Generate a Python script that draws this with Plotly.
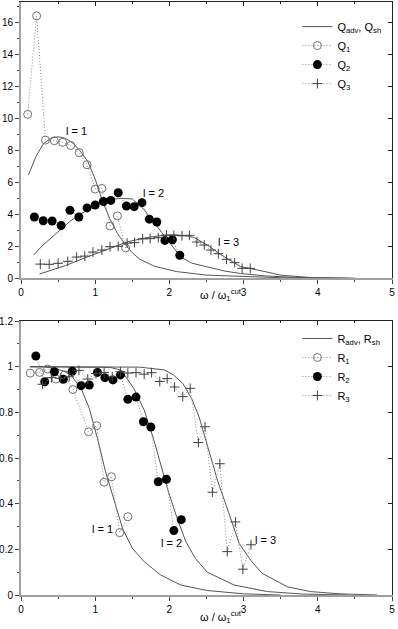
import plotly.graph_objects as go

# --- top panel: Q (x10 units on the axis) ---
q1_x = [0.09, 0.21, 0.33, 0.45, 0.56, 0.67, 0.785, 0.89, 1.00, 1.09, 1.20, 1.30, 1.41]
q1_y = [10.25, 16.4, 8.64, 8.6, 8.5, 8.3, 7.85, 7.1, 5.58, 5.62, 3.27, 3.9, 1.9]

q2_x = [0.18, 0.30, 0.42, 0.54, 0.66, 0.78, 0.89, 1.00, 1.11, 1.21, 1.31, 1.42, 1.525,
        1.63, 1.73, 1.83, 1.94, 2.04, 2.14]
q2_y = [3.83, 3.6, 3.58, 3.3, 4.25, 3.83, 4.4, 4.58, 4.8, 4.87, 5.35, 4.52, 4.48,
        4.73, 3.7, 3.52, 2.37, 2.41, 1.44]

q3_x = [0.26, 0.38, 0.50, 0.63, 0.75, 0.86, 0.97, 1.09, 1.20, 1.31, 1.43, 1.53, 1.64, 1.74,
        1.85, 1.96, 2.06, 2.17, 2.27, 2.37, 2.47, 2.56, 2.66, 2.77, 2.88, 2.98, 3.09]
q3_y = [0.89, 0.875, 0.94, 1.06, 1.33, 1.39, 1.64, 1.77, 1.98, 2.0, 2.2, 2.23, 2.47, 2.48,
        2.54, 2.7, 2.69, 2.66, 2.69, 2.27, 2.08, 1.77, 1.54, 1.19, 0.98, 0.625, 0.625]

qsh1_x = [0.10, 0.2, 0.3, 0.4, 0.5, 0.6, 0.7, 0.8, 0.9, 1.0, 1.1, 1.2, 1.3, 1.4, 1.5, 1.6,
          1.8, 2.1, 2.5, 3.0, 3.5, 4.0, 4.4]
qsh1_y = [6.45, 7.6, 8.4, 8.75, 8.85, 8.75, 8.45, 7.95, 7.3, 6.2, 4.8, 3.7, 2.8, 2.15, 1.6, 1.2,
          0.75, 0.42, 0.2, 0.1, 0.04, 0.01, 0.0]
qsh2_x = [0.17, 0.3, 0.45, 0.6, 0.67, 0.8, 0.9, 1.0, 1.12, 1.25, 1.35, 1.5, 1.64, 1.79, 1.97,
          2.15, 2.3, 2.51, 2.75, 2.96, 3.3, 3.7, 4.2, 4.5]
qsh2_y = [1.46, 2.1, 2.7, 3.3, 3.6, 4.0, 4.3, 4.55, 4.8, 4.95, 5.0, 4.96, 4.4, 3.5, 2.4,
          1.35, 0.95, 0.7, 0.45, 0.3, 0.15, 0.06, 0.01, 0.0]
qsh3_x = [0.25, 0.4, 0.6, 0.9, 1.2, 1.44, 1.7, 1.9, 2.06, 2.2, 2.33, 2.51, 2.74, 2.96, 3.19,
          3.5, 3.9, 4.5]
qsh3_y = [0.27, 0.5, 0.8, 1.35, 1.85, 2.29, 2.55, 2.68, 2.72, 2.68, 2.56, 2.08, 1.35, 0.73,
          0.52, 0.2, 0.05, 0.0]

# --- bottom panel: R ---
r1_x = [0.125, 0.25, 0.36, 0.47, 0.59, 0.70, 0.91, 1.02, 1.12, 1.22, 1.33, 1.44]
r1_y = [0.972, 0.975, 0.99, 0.946, 0.964, 0.90, 0.715, 0.742, 0.494, 0.518, 0.273, 0.343]

r2_x = [0.20, 0.32, 0.45, 0.57, 0.69, 0.81, 0.92, 1.03, 1.13, 1.24, 1.34, 1.44, 1.55, 1.65,
        1.75, 1.85, 1.96, 2.06, 2.16]
r2_y = [1.047, 0.934, 0.978, 0.945, 0.98, 0.917, 0.92, 0.975, 0.952, 0.942, 0.964, 0.857,
        0.867, 0.759, 0.736, 0.496, 0.507, 0.282, 0.33]

r3_x = [0.29, 0.41, 0.53, 0.65, 0.78, 0.90, 1.01, 1.12, 1.23, 1.34, 1.44, 1.55, 1.66, 1.76,
        1.87, 1.97, 2.07, 2.18, 2.28, 2.39, 2.48, 2.58, 2.68, 2.78, 2.89, 2.99, 3.10]
r3_y = [0.923, 0.952, 0.949, 0.956, 0.984, 0.946, 0.97, 0.975, 0.956, 0.978, 0.972, 0.974,
        0.967, 0.974, 0.935, 0.948, 0.911, 0.869, 0.905, 0.668, 0.737, 0.45, 0.575, 0.19,
        0.32, 0.113, 0.22]

rsh1_x = [0.12, 0.3, 0.45, 0.58, 0.67, 0.81, 0.92, 1.03, 1.14, 1.26, 1.37, 1.50, 1.66, 1.88,
          2.15, 2.5, 3.0, 3.5]
rsh1_y = [1.0, 1.0, 0.993, 0.98, 0.964, 0.905, 0.818, 0.686, 0.54, 0.41, 0.29, 0.205, 0.146,
          0.088, 0.044, 0.02, 0.005, 0.0]
rsh2_x = [0.12, 1.0, 1.2, 1.35, 1.52, 1.66, 1.79, 1.97, 2.1, 2.22, 2.35, 2.51, 2.87, 3.32,
          3.8, 4.4]
rsh2_y = [1.0, 1.0, 0.997, 0.985, 0.905, 0.81, 0.68, 0.47, 0.34, 0.235, 0.16, 0.10, 0.044,
          0.015, 0.004, 0.0]
rsh3_x = [0.12, 1.3, 1.6, 1.93, 2.05, 2.18, 2.3, 2.40, 2.52, 2.65, 2.8, 2.94, 3.1, 3.25,
          3.59, 3.9, 4.3, 4.8]
rsh3_y = [1.0, 1.0, 0.998, 0.986, 0.965, 0.927, 0.86, 0.78, 0.64, 0.50, 0.36, 0.226, 0.15,
          0.095, 0.036, 0.015, 0.005, 0.0]

FONT = "Liberation Sans, Arial, sans-serif"
CURVE = "#555555"
DOT = "#8a8a8a"

fig = go.Figure()


def add_panel(xa, ya, leg, names, curves, s1, s2, s3):
    # solid theory curves
    for i, (cx, cy) in enumerate(curves):
        fig.add_trace(go.Scatter(
            x=cx, y=cy, mode="lines", xaxis=xa, yaxis=ya,
            line=dict(color=CURVE, width=1),
            name=names[0], legendgroup=names[0] + leg, legend=leg,
            showlegend=(i == 0)))
    # measured points
    fig.add_trace(go.Scatter(
        x=s1[0], y=s1[1], mode="lines+markers", xaxis=xa, yaxis=ya, name=names[1], legend=leg,
        line=dict(color=DOT, width=1, dash="1px,2px"),
        marker=dict(symbol="circle-open", size=8, color="#707070", line=dict(width=1))))
    fig.add_trace(go.Scatter(
        x=s2[0], y=s2[1], mode="lines+markers", xaxis=xa, yaxis=ya, name=names[2], legend=leg,
        line=dict(color=DOT, width=1, dash="1px,2px"),
        marker=dict(symbol="circle", size=9, color="black")))
    fig.add_trace(go.Scatter(
        x=s3[0], y=s3[1], mode="lines+markers", xaxis=xa, yaxis=ya, name=names[3], legend=leg,
        line=dict(color=DOT, width=1, dash="1px,2px"),
        marker=dict(symbol="cross-thin-open", size=7, color="#404040", line=dict(width=1))))


add_panel("x", "y", "legend",
          ["Q<sub>adv</sub>, Q<sub>sh</sub>", "Q<sub>1</sub>", "Q<sub>2</sub>", "Q<sub>3</sub>"],
          [(qsh1_x, qsh1_y), (qsh2_x, qsh2_y), (qsh3_x, qsh3_y)],
          (q1_x, q1_y), (q2_x, q2_y), (q3_x, q3_y))
add_panel("x2", "y2", "legend2",
          ["R<sub>adv</sub>, R<sub>sh</sub>", "R<sub>1</sub>", "R<sub>2</sub>", "R<sub>3</sub>"],
          [(rsh1_x, rsh1_y), (rsh2_x, rsh2_y), (rsh3_x, rsh3_y)],
          (r1_x, r1_y), (r2_x, r2_y), (r3_x, r3_y))

# empty traces so the frame axes (top/right) get drawn
for xa, ya in [("x3", "y3"), ("x4", "y4")]:
    fig.add_trace(go.Scatter(x=[], y=[], xaxis=xa, yaxis=ya, showlegend=False))

tickfont = dict(family=FONT, size=10, color="black")
main_x = dict(range=[0, 5], dtick=1, ticks="outside", ticklen=4, tickcolor="#444",
              minor=dict(dtick=0.5, ticks="outside", ticklen=2, tickcolor="#444"),
              showline=True, linecolor="#a0a0a0", linewidth=2, showgrid=False,
              zeroline=False, tickfont=tickfont, automargin=False)
frame = dict(showline=True, linecolor="#222", linewidth=1, ticks="inside", ticklen=4,
             tickcolor="#222", showticklabels=False, showgrid=False, zeroline=False,
             automargin=False)

top_dom = [0.534, 1.0]
bot_dom = [0.0, 0.462]

fig.update_layout(
    template="none",
    width=398, height=629,
    margin=dict(l=21, r=6, t=2, b=34, autoexpand=False),
    paper_bgcolor="white", plot_bgcolor="white",
    font=dict(family=FONT, size=11, color="black"),
    xaxis=dict(main_x, anchor="y", domain=[0, 1]),
    yaxis=dict(range=[0, 17.27], dtick=2, ticks="outside", ticklen=4, tickcolor="#444",
               minor=dict(dtick=1, ticks="outside", ticklen=2, tickcolor="#444"),
               showline=True, linecolor="#a0a0a0", linewidth=2, showgrid=False,
               zeroline=False, tickfont=tickfont, domain=top_dom, anchor="x",
               automargin=False),
    xaxis2=dict(main_x, anchor="y2", domain=[0, 1]),
    yaxis2=dict(range=[0, 1.2], dtick=0.2, ticks="outside", ticklen=4, tickcolor="#444",
                minor=dict(dtick=0.1, ticks="outside", ticklen=2, tickcolor="#444"),
                showline=True, linecolor="#a0a0a0", linewidth=2, showgrid=False,
                zeroline=False, tickfont=tickfont, domain=bot_dom, anchor="x2",
                automargin=False),
    xaxis3=dict(frame, range=[0, 5], dtick=1, overlaying="x", side="top", anchor="y",
                minor=dict(dtick=0.5, ticks="inside", ticklen=2, tickcolor="#222")),
    yaxis3=dict(frame, range=[0, 17.27], dtick=2, overlaying="y", side="right", anchor="x"),
    xaxis4=dict(frame, range=[0, 5], dtick=1, overlaying="x2", side="top", anchor="y2",
                minor=dict(dtick=0.5, ticks="inside", ticklen=2, tickcolor="#222")),
    yaxis4=dict(frame, range=[0, 1.2], dtick=0.2, overlaying="y2", side="right", anchor="x2"),
    legend=dict(x=0.745, y=0.983, xanchor="left", yanchor="top", bgcolor="rgba(0,0,0,0)",
                font=dict(family=FONT, size=11), tracegroupgap=0, itemwidth=30),
    legend2=dict(x=0.745, y=0.457, xanchor="left", yanchor="top", bgcolor="rgba(0,0,0,0)",
                 font=dict(family=FONT, size=11), tracegroupgap=0, itemwidth=30),
    showlegend=True,
)

labels = [
    ("x", "y", 0.75, 9.2, "l = 1"), ("x", "y", 1.78, 5.35, "l = 2"), ("x", "y", 2.79, 2.29, "l = 3"),
    ("x2", "y2", 1.10, 0.289, "l = 1"), ("x2", "y2", 2.03, 0.226, "l = 2"),
    ("x2", "y2", 3.30, 0.241, "l = 3"),
]
for xr, yr, ax, ay, txt in labels:
    fig.add_annotation(x=ax, y=ay, xref=xr, yref=yr, text=txt, showarrow=False,
                       font=dict(family=FONT, size=11, color="black"))

xtitle = "\u03c9 / \u03c9<sub>1</sub><sup>cut</sup>"
for yy in [0.506, -0.037]:
    fig.add_annotation(x=0.477, y=yy, xref="paper", yref="paper", text=xtitle,
                       showarrow=False, xanchor="left", yanchor="middle",
                       font=dict(family=FONT, size=11, color="black"))

# drop the browser's default 8px page margin so the figure sits at the window corner
fig.write_html("out.html", config={"displayModeBar": False},
               post_script="document.body.style.margin='0px';")
